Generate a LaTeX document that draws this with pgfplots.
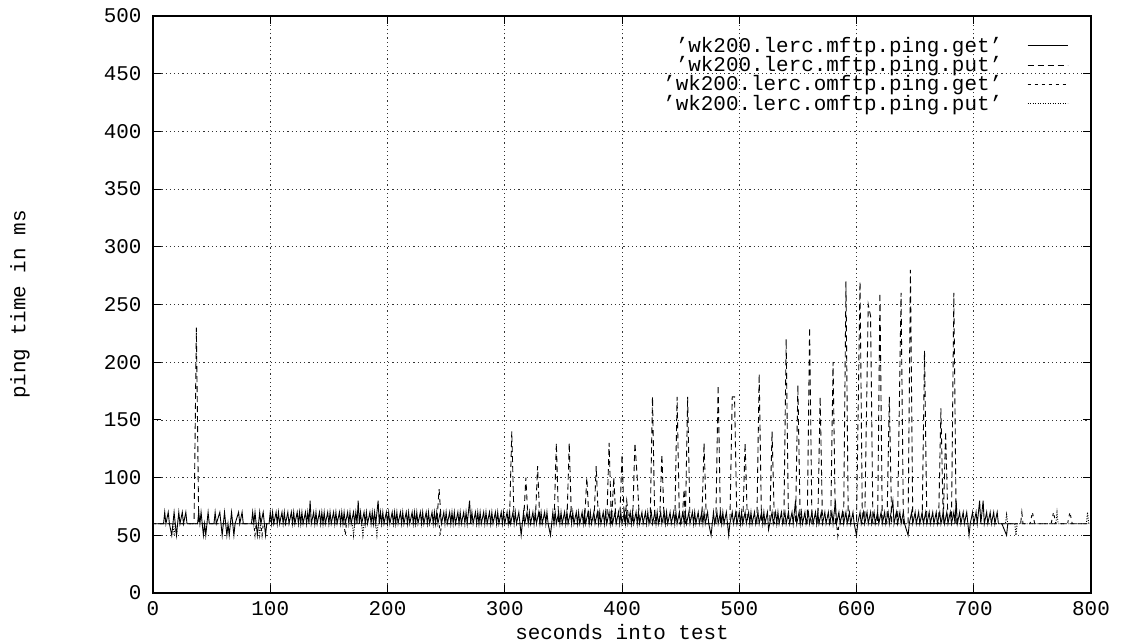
\documentclass[border=0pt]{standalone}
\usepackage{fontspec}
\setmainfont{Liberation Mono}
\usepackage{pgfplots}
\pgfplotsset{compat=1.18}
\begin{document}
\begin{tikzpicture}
\path[use as bounding box] (-153bp,-50bp) rectangle (969bp,593bp);
\begin{axis}[
  at={(0,0)}, anchor=south west,
  scale only axis, width=938bp, height=577bp,
  xmin=0, xmax=800, ymin=0, ymax=500,
  xtick={0,100,...,800}, ytick={0,50,...,500},
  grid=major,
  major grid style={black!80, line width=0.7bp, dash pattern=on 1.2bp off 3bp},
  axis line style={line width=1.6bp},
  tick style={black, line width=1bp}, major tick length=8bp, tick align=inside,
  font=\fontsize{21}{24}\selectfont,
  /pgf/number format/assume math mode=true,
  yticklabel style={xshift=-8bp},
  xticklabel style={yshift=-5bp},
  xlabel={seconds into test}, ylabel={ping time in ms},
  xlabel style={at={(axis description cs:0.5,-0.0676)}, anchor=center},
  ylabel style={at={(axis description cs:-0.1418,0.5)}, anchor=center, rotate=0},
  legend plot pos=right,
  legend cell align=right,
  legend image code/.code={\draw[#1] (0bp,0bp) -- (40bp,0bp);},
  legend style={draw=none, fill=none, at={(axis description cs:0.979,0.97)}, anchor=north east,
    row sep=-1.5bp, /tikz/every odd column/.append style={column sep=23bp}},
  every axis plot/.append style={black, line width=0.9bp},
]
% mftp get (solid)
\addplot[solid] coordinates {
(0,60)(9,60)(10,70)(11,60)(13,70)(14,60)(16,50)(17,60)(18,70)(19,60)(20,50)(21,60)(22,70)(23,60)(25,70)(26,60)(28,70)(29,60)
(38,60)(39,70)(40,60)(41,70)(42,60)(43,50)(44,60)(45,50)(46,60)(47,70)(48,60)(52,60)(53,70)(54,60)(57,70)(58,60)(59,50)(60,60)
(61,70)(62,60)(63,50)(64,60)(65,50)(66,60)(67,70)(68,60)(69,50)(70,60)(73,70)(74,60)(76,70)(77,60)(84,60)(85,70)(86,60)(87,70)
(88,60)(89,50)(90,60)(91,70)(92,60)(94,70)(95,60)(96,50)(97,60)
(99,60)(100,70)(101,60)(102,70)(103,60)(105,70)(106,60)(107,70)(108,60)(110,70)(111,60)(112,70)(113,60)(115,70)(116,60)(118,70)
(119,60)(120,70)(121,60)(123,70)(124,60)(125,70)(126,60)(127,70)(128,60)(130,70)(131,60)(132,70)(133,60)(134,80)(135,60)(137,70)
(138,60)(139,70)(140,60)(142,70)(143,60)(144,70)(145,60)(146,70)(147,60)(149,70)(150,60)(151,70)(152,60)(154,70)(155,60)(156,70)
(157,60)(159,70)(160,60)(161,70)(162,60)(163,70)(164,60)(166,70)(167,60)(168,70)(169,60)(171,70)(172,60)(173,70)(174,60)(175,80)
(176,60)(177,70)(178,60)(180,70)(181,60)(182,70)(183,60)(185,70)(186,60)(187,70)(188,60)(189,70)(190,60)(192,80)(193,60)(194,70)
(195,60)(196,70)(197,60)(199,70)(200,60)(201,70)(202,60)(204,70)(205,60)(206,70)(207,60)(208,70)(209,60)(211,70)(212,60)(213,70)
(214,60)(216,70)(217,60)(218,70)(219,60)(221,70)(222,60)(223,70)(224,60)(225,70)(226,60)(228,70)(229,60)(230,70)(231,60)(233,70)
(234,60)(235,70)(236,60)(238,70)(239,60)(240,70)(241,60)(242,70)(243,60)(245,70)(246,60)(248,70)(249,60)(250,70)(251,60)(253,70)
(254,60)(255,70)(256,60)(257,70)(258,60)(260,70)(261,60)(262,70)(263,60)(265,70)(266,60)(267,70)(268,60)(270,80)(271,60)(272,70)
(273,60)(275,70)(276,60)(277,70)(278,60)(279,70)(280,60)(282,70)(283,60)(284,70)(285,60)(287,70)(288,60)(289,70)(290,60)(292,70)
(293,60)(294,70)(295,60)(297,70)(298,60)(299,70)(300,60)
(302,70)(303,60)(304,70)(305,60)(307,70)(308,60)(309,70)(310,60)(312,70)(313,60)(314,50)(315,60)(316,70)(317,60)(319,70)(320,60)
(321,70)(322,60)(324,70)(325,60)(326,70)(327,60)(329,70)(330,60)(331,70)(332,60)(334,70)(335,60)(336,70)(337,60)(339,50)(340,60)
(341,70)(342,60)(343,70)(344,60)(346,70)(347,60)(348,70)(349,60)(351,70)(352,60)(353,70)(354,60)(356,70)(357,60)(358,70)(359,60)
(361,70)(362,60)(363,70)(364,60)(366,70)(367,60)(368,70)(369,60)(371,70)(372,60)(373,70)(374,60)(376,70)(377,60)(379,70)(380,60)
(381,70)(382,60)(384,70)(385,60)(386,70)(387,60)(389,70)(390,60)(391,70)(392,60)(394,70)(395,60)(397,70)(398,60)(399,70)(400,60)
(402,70)(403,60)(404,70)(405,60)(407,70)(408,60)(409,70)(410,60)(412,70)(413,60)(414,70)(415,60)(417,70)(418,60)(420,70)(421,60)
(422,70)(423,60)(425,70)(426,60)(428,70)(429,60)(430,70)(431,60)(433,70)(434,60)(436,70)(437,60)(438,70)(439,60)(441,70)(442,60)
(444,70)(445,60)(446,70)(447,60)(449,70)(450,60)(452,70)(453,60)(454,70)(455,60)(457,70)(458,60)(460,70)(461,60)(462,70)(463,60)
(465,70)(466,60)(468,70)(469,60)(470,70)(471,60)(473,70)(474,60)(476,50)(477,60)(478,70)(479,60)(481,70)(482,60)(484,70)(485,60)
(486,70)(487,60)(489,70)(490,60)(491,50)(492,60)(494,70)(495,60)(497,70)(498,60)(500,70)(501,60)(502,70)(503,60)(505,70)(506,60)
(508,70)(509,60)(510,70)(511,60)(513,70)(514,60)(516,70)(517,60)(519,70)(520,60)(521,70)(522,60)(524,70)(525,55)(526,60)(528,70)
(529,60)(531,70)(532,60)(533,70)(534,60)(536,70)(537,60)(539,70)(540,60)(542,70)(543,60)(545,70)(546,60)(548,80)(549,60)(551,70)
(552,60)(553,70)(554,60)(556,70)(557,60)(559,70)(560,60)(562,70)(563,60)(565,70)(566,60)(567,70)(568,60)(570,70)(571,60)(573,70)
(574,60)(576,70)(577,60)(579,70)(580,60)(582,80)(583,60)(585,70)(586,60)(588,70)(589,60)(591,70)(592,60)(594,70)(595,60)(597,70)
(598,60)(600,50)(601,60)(603,70)(604,60)(606,70)(607,60)(609,70)(610,60)(612,70)(613,60)(615,70)(616,60)(618,70)(619,60)(621,70)
(622,60)(624,70)(625,60)(627,70)(628,60)(631,80)(632,60)(634,70)(635,60)(637,70)(638,60)(640,70)(641,60)(644,50)(645,60)(647,70)
(648,60)(650,70)(651,60)(653,70)(654,60)(656,70)(657,60)(659,70)(660,60)(662,70)(663,60)(665,70)(666,60)(668,70)(669,60)(671,70)
(672,60)(674,70)(675,60)(677,70)(678,60)(680,70)(681,60)(683,70)(684,60)(685,80)(686,60)(688,70)(689,60)(691,70)(692,60)(694,70)
(695,60)(696,50)(697,60)(699,70)(700,60)(702,70)(703,60)(705,80)(706,60)(707,70)(708,80)(709,60)(711,70)(712,60)(714,70)(715,60)
(717,70)(718,60)(720,70)(721,60)(724,60)(728,50)(729,60)(733,60)
};
\addlegendentry{'wk200.lerc.mftp.ping.get'}
% mftp put (dashed)
\addplot[dash pattern=on 6bp off 4bp] coordinates {
(5,60)(35,60)(37,230)(39,60)(242,60)(244,90)(246,60)
(304,60)(306,140)(308,60)(316,60)(318,100)(320,60)(326,60)(328,110)(330,60)
(342,60)(344,130)(346,60)(353,60)(355,130)(357,60)(368,60)(370,100)(372,60)
(376,60)(378,110)(380,60)(387,60)(389,130)(391,60)(393,100)(395,60)
(398,60)(400,120)(402,60)(404,80)(406,60)(409,60)(411,130)(413,100)(415,60)
(424,60)(426,170)(428,60)(432,60)(434,120)(436,60)(445,60)(447,170)(449,60)
(451,60)(453,90)(454,60)(456,170)(458,60)(468,60)(470,130)(472,60)
(480,60)(482,180)(484,60)(492,60)(494,170)(496,170)(498,60)(503,60)(505,130)(507,60)
(515,60)(517,190)(519,60)(526,60)(528,140)(530,60)(538,60)(540,220)(542,60)
(548,60)(550,180)(552,60)(558,60)(560,230)(562,60)(567,60)(569,170)(571,60)
(578,60)(580,200)(582,60)(589,60)(591,270)(593,60)(600,60)(603,270)(605,60)
(607,60)(610,250)(612,240)(614,60)(618,60)(620,260)(622,60)(626,60)(628,170)(630,60)
(635,60)(638,260)(640,60)(644,60)(646,280)(648,60)(656,60)(658,210)(660,60)
(670,60)(672,160)(674,60)(676,140)(678,60)(681,60)(683,260)(685,60)
(740,60)(741,70)(742,60)(800,60)
};
\addlegendentry{'wk200.lerc.mftp.ping.put'}
% omftp get (fine dashes)
\addplot[dash pattern=on 3bp off 4bp] coordinates {
(0,60)(19,60)(20,50)(21,60)(86,60)(87,50)(88,60)(92,60)(93,50)(94,60)
(163,60)(164,50)(165,60)(244,60)(245,50)(246,60)(583,60)(584,50)(585,60)
(748,60)(750,70)(752,60)(766,60)(768,70)(770,60)(780,60)(782,70)(784,60)(800,60)
};
\addlegendentry{'wk200.lerc.omftp.ping.get'}
% omftp put (dotted)
\addplot[dash pattern=on 1bp off 1.5bp] coordinates {
(0,60)(17,60)(18,50)(19,60)(90,60)(91,50)(92,60)(170,60)(171,50)(172,60)
(178,60)(179,50)(180,60)(190,60)(191,50)(192,60)
(727,60)(728,68)(729,60)(735,60)(736,50)(737,60)(770,60)(771,70)(772,60)(796,60)(797,70)(798,60)(800,60)
};
\addlegendentry{'wk200.lerc.omftp.ping.put'}
\end{axis}
\end{tikzpicture}
\end{document}
